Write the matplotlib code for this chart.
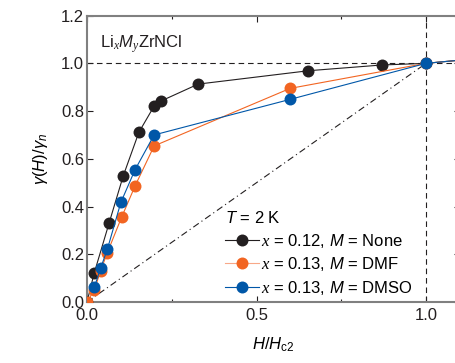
import matplotlib
matplotlib.use("Agg")
import matplotlib.pyplot as plt
from matplotlib.lines import Line2D

plt.rcParams['font.family'] = ['Liberation Sans', 'DejaVu Sans']
plt.rcParams['mathtext.fontset'] = 'custom'
plt.rcParams['mathtext.rm'] = 'Liberation Sans'
plt.rcParams['mathtext.it'] = 'Liberation Sans:italic'
plt.rcParams['mathtext.cal'] = 'Liberation Serif:italic'
plt.rcParams['mathtext.sf'] = 'DejaVu Sans'

# Data (H/Hc2, gamma(H)/gamma_n)
none_x = [0.0, 0.021, 0.065, 0.107, 0.153, 0.198, 0.218, 0.328, 0.653, 0.869, 1.0, 1.3]
none_y = [0.0, 0.12, 0.33, 0.529, 0.711, 0.821, 0.842, 0.913, 0.969, 0.993, 1.0, 1.04]
dmf_x = [0.0, 0.022, 0.040, 0.060, 0.102, 0.142, 0.198, 0.599, 1.0, 1.3]
dmf_y = [0.0, 0.052, 0.131, 0.207, 0.355, 0.487, 0.654, 0.895, 1.0, 1.04]
dmso_x = [0.022, 0.040, 0.060, 0.100, 0.142, 0.198, 0.599, 1.0, 1.3]
dmso_y = [0.064, 0.141, 0.221, 0.418, 0.555, 0.70, 0.849, 1.0, 1.04]

labels = [r"$\mathcal{x}$ = 0.12, $M$ = None",
          r"$\mathcal{x}$ = 0.13, $M$ = DMF",
          r"$\mathcal{x}$ = 0.13, $M$ = DMSO"]
colors = ['#231f20', '#f26522', '#0057a8']
handle_line_colors = ['#231f20', '#f8a888', '#0057a8']

fig = plt.figure(figsize=(4.56, 3.63), dpi=100)
ax = fig.add_axes([87/456, 61/363, 373/456, 286.4/363])

fs = 12
ms = 8.6
lw = 0.8

# reference lines
ax.plot([0, 1.0], [0, 1.0], color='#231f20', lw=0.8, ls=(0, (6, 3, 1, 3)), zorder=1)
ax.axhline(1.0, color='#231f20', lw=0.8, ls=(0, (5, 3.5)), zorder=1)
ax.axvline(1.0, color='#231f20', lw=0.8, ls=(0, (5, 3.5)), zorder=1)

ax.plot(none_x, none_y, '-o', color=colors[0], ms=ms, lw=lw, mec='none', zorder=3)
ax.plot(dmso_x, dmso_y, '-o', color=colors[2], ms=ms, lw=lw, mec='none', zorder=4)
ax.plot(dmf_x, dmf_y, '-o', color=colors[1], ms=ms, lw=lw, mec='none', zorder=3.5)

ax.set_xlim(0, 1.1)
ax.set_ylim(0, 1.2)
ax.set_xticks([0, 0.5, 1.0])
ax.set_xticklabels(['0.0', '0.5', '1.0'])
ax.set_xticks([0.25, 0.75], minor=True)
ax.set_yticks([0, 0.2, 0.4, 0.6, 0.8, 1.0, 1.2])
ax.set_yticklabels(['0.0', '0.2', '0.4', '0.6', '0.8', '1.0', '1.2'])
ax.tick_params(which='both', direction='in', top=True, right=True, labelsize=fs,
               colors='#231f20', width=0.8)
ax.tick_params(which='major', length=4, pad=4)
ax.tick_params(axis='y', which='major', pad=2)
ax.tick_params(which='minor', length=2)
for sp in ax.spines.values():
    sp.set_color('#808080')
    sp.set_linewidth(1.5)

ax.set_xlabel(r"$H$/$H_{\mathrm{c2}}$", fontsize=fs, labelpad=9)
ax.set_ylabel(r"$\gamma$($H$)/$\gamma_n$", fontsize=fs, labelpad=8)

ax.text(0.035, 0.90, r"Li$_{\mathcal{x}}$$M_{\mathcal{y}}$ZrNCl", transform=ax.transAxes,
        fontsize=fs, ha='left', va='center', color='#231f20')

handles = [Line2D([], [], color=lc, marker='o', ms=ms, lw=lw, mfc=c, mec='none')
           for c, lc in zip(colors, handle_line_colors)]
leg = ax.legend(handles, labels, title=r"$T$ = 2 K", loc='lower left',
                bbox_to_anchor=(0.34, -0.022), frameon=False, fontsize=fs,
                title_fontsize=fs, handlelength=2.0, handletextpad=0.15,
                labelspacing=0.33, borderpad=0.2, alignment='left')

fig.savefig("out.png", dpi=100)
